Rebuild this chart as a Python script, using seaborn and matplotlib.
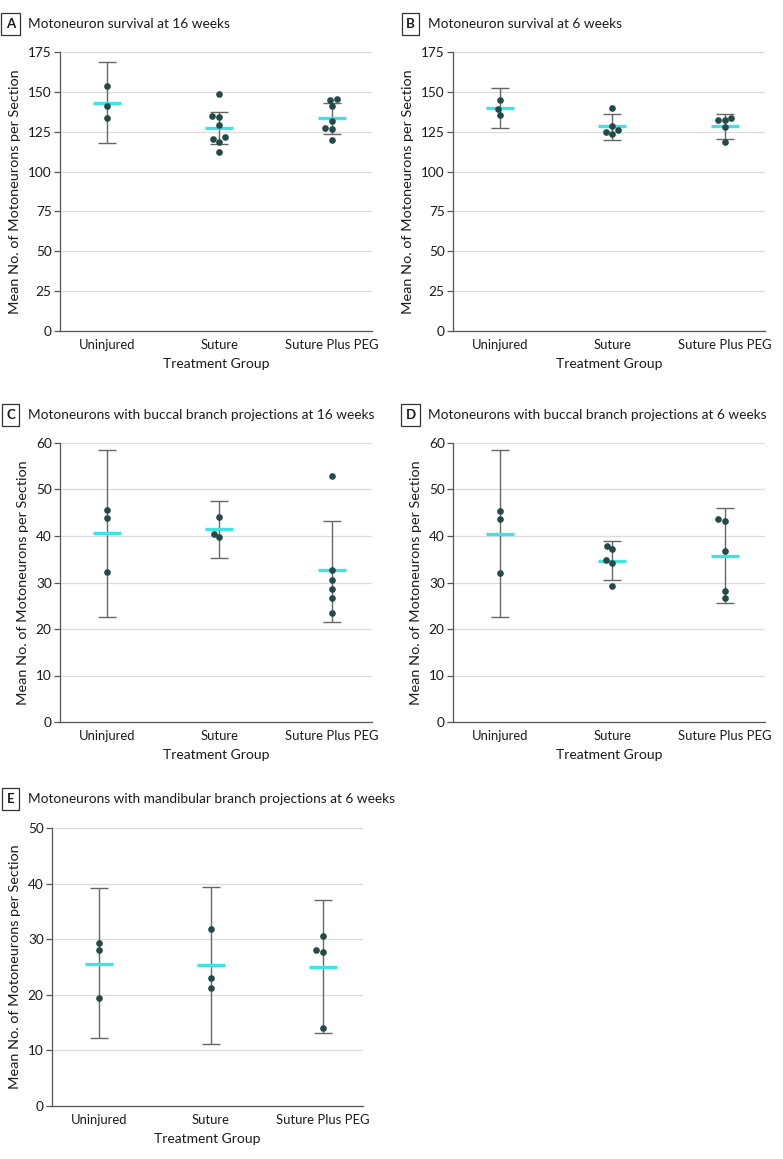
import numpy as np
import pandas as pd
import seaborn as sns
import matplotlib.pyplot as plt

# ---------------------------
# Data
# ---------------------------

groups = ["Uninjured", "Suture", "Suture Plus PEG"]

# A: survival at 16 weeks
a_uninjured = [153.9, 141.3, 133.4]
a_suture = [148.4, 134.6, 134.4, 129.2, 121.5, 120.6, 118.8, 112.3]
a_peg = [145.3, 144.9, 140.9, 131.5, 127.5, 126.5, 120.0]
a_mean = [143.2, 127.5, 133.6]
a_ci_low = [118.1, 117.5, 123.8]
a_ci_high = [168.5, 137.2, 143.2]

# B: survival at 6 weeks
b_uninjured = [145.1, 139.2, 135.3]
b_suture = [139.7, 128.6, 125.9, 124.6, 123.6]
b_peg = [133.4, 132.1, 132.1, 127.7, 118.5]
b_mean = [139.9, 128.4, 128.8]
b_ci_low = [127.5, 120.0, 120.6]
b_ci_high = [152.4, 136.1, 136.1]

# C: buccal branch at 16 weeks
c_uninjured = [45.6, 43.8, 32.3]
c_suture = [44.1, 40.5, 39.7]
c_peg = [53.0, 32.7, 30.5, 28.5, 26.7, 23.4]
c_mean = [40.7, 41.4, 32.6]
c_ci_low = [22.6, 35.2, 21.5]
c_ci_high = [58.6, 47.6, 43.3]

# D: buccal branch at 6 weeks
d_uninjured = [45.4, 43.7, 32.1]
d_suture = [37.9, 37.1, 34.8, 34.3, 29.2]
d_peg = [43.7, 43.3, 36.7, 28.2, 26.7]
d_mean = [40.5, 34.7, 35.7]
d_ci_low = [22.5, 30.5, 25.5]
d_ci_high = [58.4, 39.0, 46.0]

# E: mandibular branch at 6 weeks
e_uninjured = [29.3, 28.1, 19.4]
e_suture = [31.9, 23.0, 21.2]
e_peg = [30.6, 28.0, 27.7, 14.0]
e_mean = [25.6, 25.3, 25.0]
e_ci_low = [12.3, 11.1, 13.1]
e_ci_high = [39.2, 39.4, 37.1]

a_ticks = [0, 25, 50, 75, 100, 125, 150, 175]
c_ticks = [0, 10, 20, 30, 40, 50, 60]
e_ticks = [0, 10, 20, 30, 40, 50]

# ---------------------------
# Style
# ---------------------------

sns.set_theme(style="white")
plt.rcParams["font.family"] = ["Lato", "DejaVu Sans"]

dot_color = "#234a48"
mean_color = "#3fe3e3"
bar_color = "#666666"
axis_color = "#555555"
grid_color = "#dcdcdc"
text_color = "#1a1a1a"

W, H = 783, 1159
fig = plt.figure(figsize=(W / 100, H / 100), dpi=100)


def px_rect(left, top, right, bottom):
    return [left / W, 1 - bottom / H, (right - left) / W, (bottom - top) / H]


panels = [
    ("A", "Motoneuron survival at 16 weeks",
     [a_uninjured, a_suture, a_peg], a_mean, a_ci_low, a_ci_high, a_ticks,
     px_rect(60, 52, 372, 331), (2, 24)),
    ("B", "Motoneuron survival at 6 weeks",
     [b_uninjured, b_suture, b_peg], b_mean, b_ci_low, b_ci_high, a_ticks,
     px_rect(453, 52, 765, 331), (402, 24)),
    ("C", "Motoneurons with buccal branch projections at 16 weeks",
     [c_uninjured, c_suture, c_peg], c_mean, c_ci_low, c_ci_high, c_ticks,
     px_rect(60, 443, 372, 722), (2, 415)),
    ("D", "Motoneurons with buccal branch projections at 6 weeks",
     [d_uninjured, d_suture, d_peg], d_mean, d_ci_low, d_ci_high, c_ticks,
     px_rect(453, 443, 765, 722), (402, 415)),
    ("E", "Motoneurons with mandibular branch projections at 6 weeks",
     [e_uninjured, e_suture, e_peg], e_mean, e_ci_low, e_ci_high, e_ticks,
     px_rect(52, 828, 363, 1106), (2, 799)),
]

for letter, title, values, means, lows, highs, ticks, rect, (tx, ty) in panels:
    ax = fig.add_axes(rect)

    points = pd.DataFrame({
        "Group": np.repeat(groups, [len(v) for v in values]),
        "Value": np.concatenate(values),
    })
    summary = pd.DataFrame({"Group": groups, "Mean": means})

    # 95% CI whiskers
    means_arr = np.array(means)
    ax.errorbar(
        x=np.arange(len(groups)), y=means_arr,
        yerr=[means_arr - np.array(lows), np.array(highs) - means_arr],
        fmt="none", ecolor=bar_color, elinewidth=1.0, capsize=6.5,
        capthick=1.0, zorder=2,
    )

    # mean lines
    sns.pointplot(
        data=summary, x="Group", y="Mean", order=groups, ax=ax,
        errorbar=None, markers="_", linestyles="none", color=mean_color,
        markersize=20, markeredgewidth=2.4, zorder=3,
    )

    # individual animals
    sns.swarmplot(
        data=points, x="Group", y="Value", order=groups, ax=ax,
        color=dot_color, size=4.8, linewidth=0, zorder=4,
    )

    ax.set_xlim(-0.42, 2.36)
    ax.set_ylim(0, ticks[-1])
    ax.set_yticks(ticks)
    ax.yaxis.grid(True, color=grid_color, linewidth=0.9)
    ax.set_axisbelow(True)

    for loc, spine in ax.spines.items():
        if loc in ["left", "bottom"]:
            spine.set_color(axis_color)
            spine.set_linewidth(0.9)
        else:
            spine.set_visible(False)

    ax.tick_params(axis="y", direction="out", length=4, width=0.9,
                   color=axis_color, labelsize=9.8, labelcolor=text_color,
                   pad=2, left=True)
    ax.tick_params(axis="x", length=0, labelsize=9.4, labelcolor=text_color,
                   pad=6)
    ax.set_xlabel("Treatment Group", fontsize=10, color=text_color,
                  labelpad=5)
    ax.set_ylabel("Mean No. of Motoneurons per Section", fontsize=10.4,
                  color=text_color, labelpad=5)

    # panel letter box and title
    fig.text((tx + 8.5) / W, 1 - ty / H, letter, fontsize=9.5,
             fontweight="bold", color=text_color, ha="center", va="center",
             bbox=dict(boxstyle="square,pad=0.35", fc="white",
                       ec="#333333", lw=0.9))
    fig.text((tx + 26) / W, 1 - ty / H, title, fontsize=9.8,
             color=text_color, ha="left", va="center")

fig.savefig("out.png", dpi=100)
